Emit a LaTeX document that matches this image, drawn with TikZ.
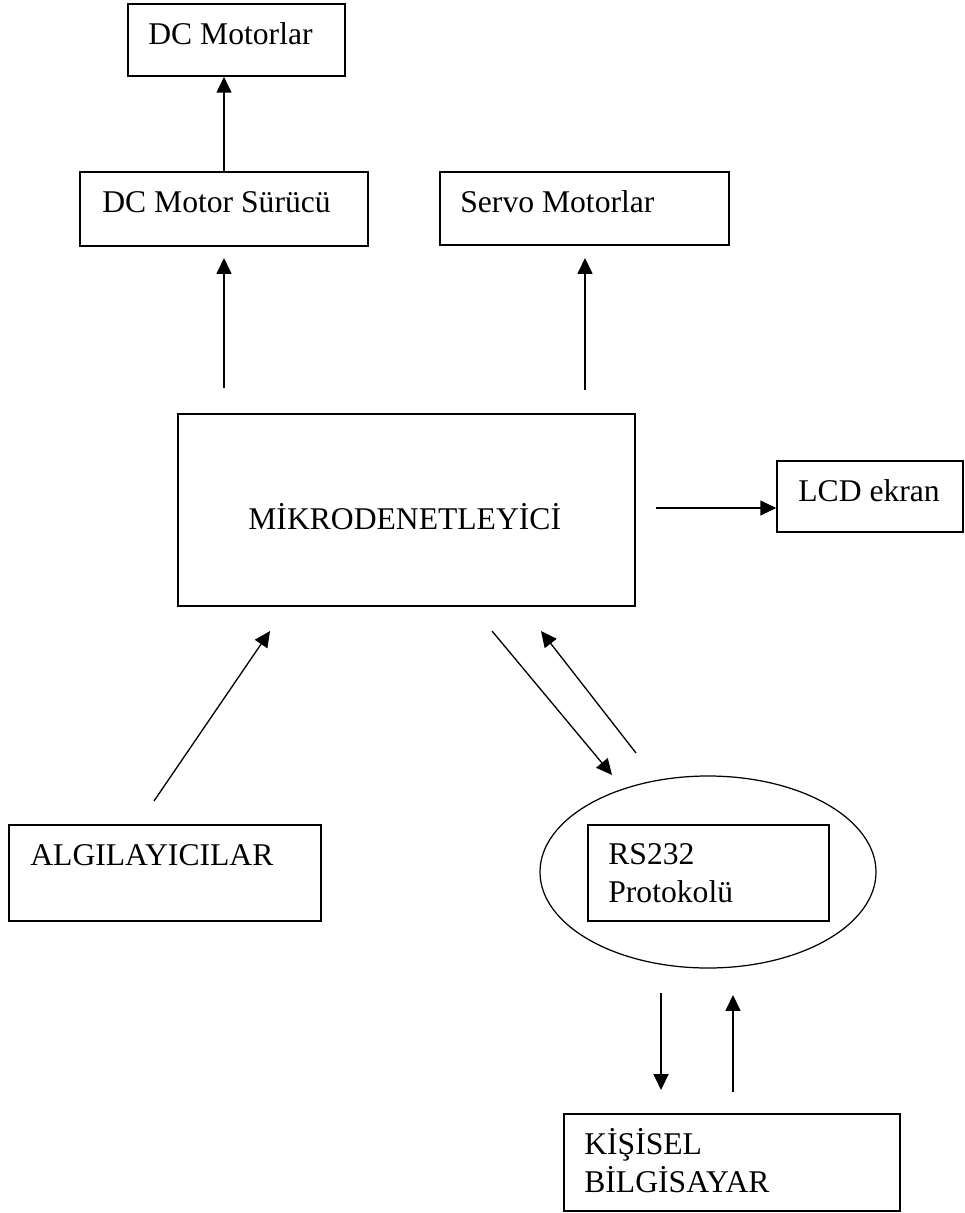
\documentclass[tikz,border=0pt]{standalone}
\usepackage{fontspec}
\setmainfont{Liberation Serif}
\usepackage{tikz}
\usetikzlibrary{arrows.meta,fit,shapes.geometric}

\tikzset{
  blok/.style={draw, line width=0.9pt, inner sep=0pt, fit={#1}},
  yazi/.style={anchor=base west, inner sep=0pt, align=left,
    font=\fontsize{18}{21.5}\selectfont},
  ok/.style={-{Triangle[length=9pt,width=8.5pt]}, line width=0.75pt}
}

\begin{document}
\begin{tikzpicture}[x=0.02cm,y=-0.02cm]
\useasboundingbox (0,0) rectangle (964,1213);

% kutular
\node[blok={(128,4) (345,76)}] (dcmotor) {};
\node[blok={(80,172) (368,246)}] (surucu) {};
\node[blok={(440,172) (729,245)}] (servo) {};
\node[blok={(178,414) (635,606)}] (mikro) {};
\node[blok={(777,461) (963,532)}] (lcd) {};
\node[blok={(9,825) (321,921)}] (algi) {};
\node[draw, ellipse, line width=0.7pt, minimum width=336*0.02cm, minimum height=192*0.02cm] (rselips) at (708,872) {};
\node[blok={(588,825) (829,921)}] (rs) {};
\node[blok={(564,1114) (900,1211)}] (pc) {};

% yazilar (iki satirlilarda base = son satir)
\node[yazi] (tdcmotor) at (148,45) {DC Motorlar};
\node[yazi] (tsurucu) at (102,213) {DC Motor Sürücü};
\node[yazi] (tservo) at (460,213) {Servo Motorlar};
\node[yazi] (tmikro) at (248,529) {MİKRODENETLEYİCİ};
\node[yazi] (tlcd) at (798,501) {LCD ekran};
\node[yazi] (talgi) at (30,865) {ALGILAYICILAR};
\node[yazi] (trs) at (608,902) {RS232\\Protokolü};
\node[yazi] (tpc) at (584,1192) {KİŞİSEL\\BİLGİSAYAR};

% oklar
\draw[ok] (surucu.north) -- (surucu.north |- dcmotor.south);
\draw[ok] (224,388) -- (224,258);
\draw[ok] (585,390) -- (585,258);
\draw[ok] (656,508) -- (lcd.west |- 0,508);
\draw[ok] (154,801) -- (270,631);
\draw[ok] (492,631) -- (612,775);
\draw[ok] (636,753) -- (541,631);
\draw[ok] (661,993) -- (661,1090);
\draw[ok] (733,1092) -- (733,995);
\end{tikzpicture}
\end{document}
